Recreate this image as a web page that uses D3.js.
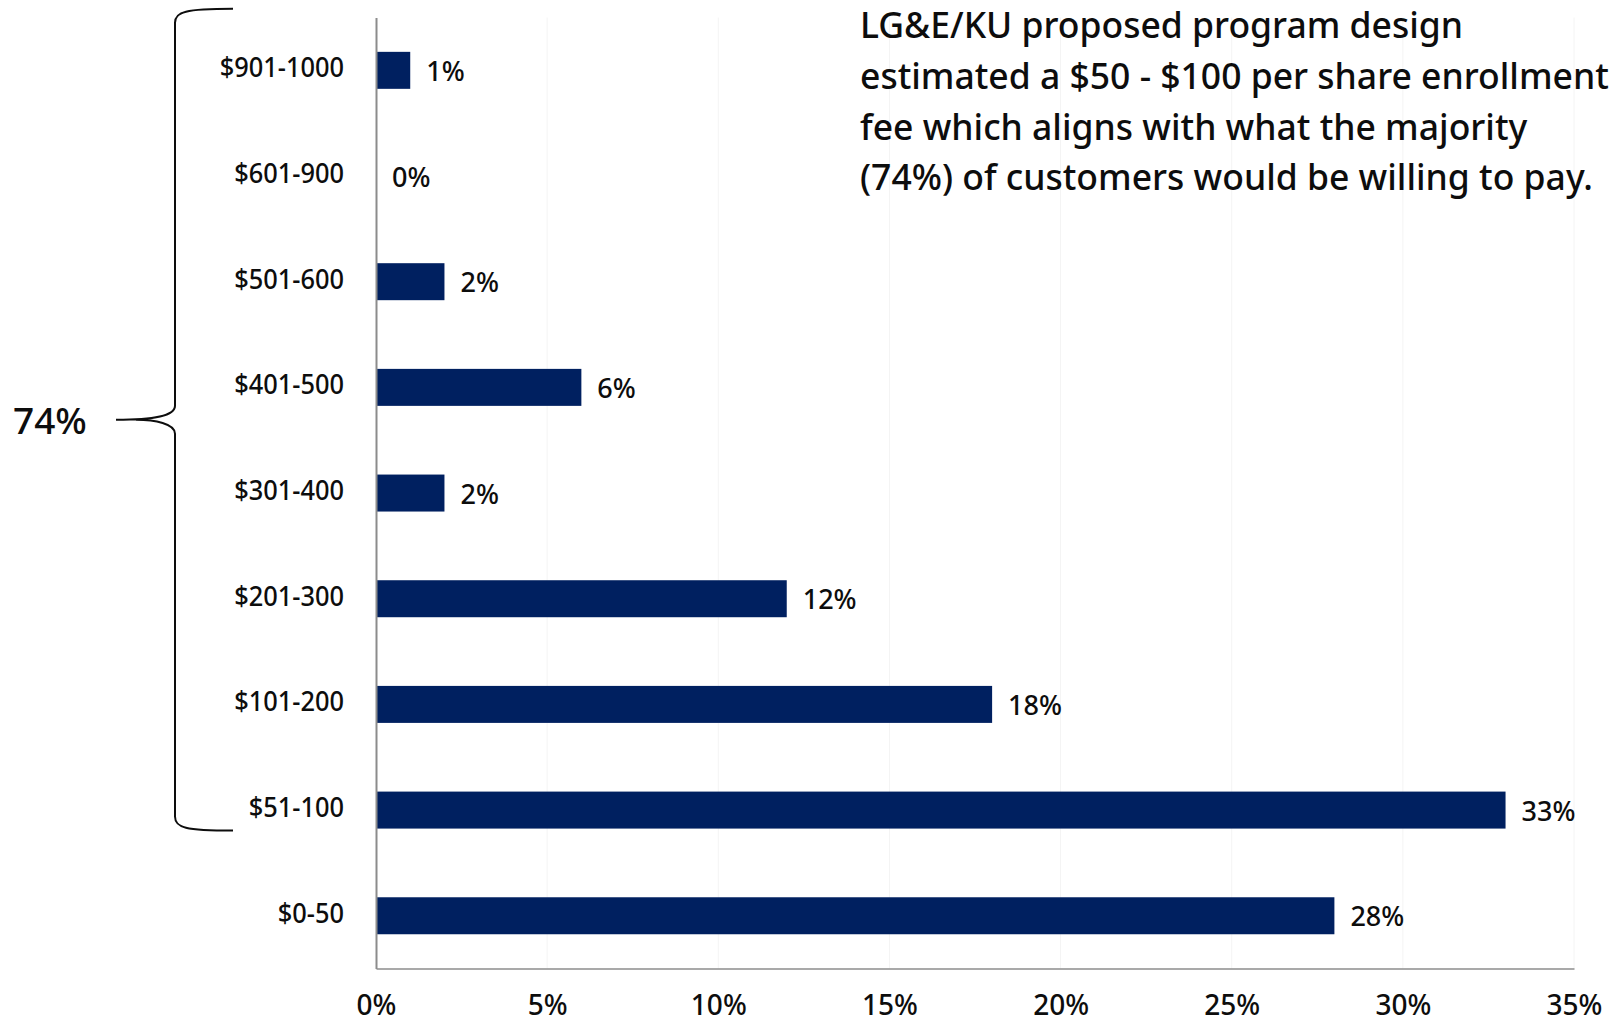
<!DOCTYPE html>
<html>
<head>
<meta charset="utf-8">
<script src="https://cdn.jsdelivr.net/npm/d3@7"></script>
<style>
  html, body { margin: 0; padding: 0; background: #fff; }
  svg { display: block; font-family: "Noto Sans", "Open Sans", sans-serif; }
</style>
</head>
<body>
<svg id="chart" width="1614" height="1025"></svg>
<script>
// Willingness-to-pay ranges, listed top to bottom
const categories = ["$901-1000", "$601-900", "$501-600", "$401-500", "$301-400",
                    "$201-300", "$101-200", "$51-100", "$0-50"];
// Share of customers per range (%)
const shares = [1, 0, 2, 6, 2, 12, 18, 33, 28];
// Horizontal axis ticks (%)
const xTicks = [0, 5, 10, 15, 20, 25, 30, 35];
// Call-out text
const noteLines = [
  "LG&E/KU proposed program design",
  "estimated a $50 - $100 per share enrollment",
  "fee which aligns with what the majority",
  "(74%) of customers would be willing to pay."
];
const braceLabel = "74%";
// Ranges grouped by the brace
const braceFrom = "$901-1000", braceTo = "$51-100";

const svg = d3.select("#chart");
const BAR = "#002060";
const INK = "#0d0d0d";

const x = d3.scaleLinear().domain([0, 35]).range([376, 1574]);
const y = d3.scaleBand().domain(categories).range([17.5, 968.6])
  .paddingInner(0.65).paddingOuter(0.325);

// faint vertical gridlines
svg.append("g").selectAll("line").data(xTicks.slice(1)).join("line")
  .attr("x1", d => x(d)).attr("x2", d => x(d))
  .attr("y1", y.range()[0]).attr("y2", y.range()[1])
  .attr("stroke", "#f4f4f4").attr("stroke-width", 1);

// bars
svg.append("g").selectAll("rect").data(categories).join("rect")
  .attr("x", x(0))
  .attr("y", d => y(d))
  .attr("width", (d, i) => x(shares[i]) - x(0))
  .attr("height", y.bandwidth())
  .attr("fill", BAR);

// value labels
svg.append("g").selectAll("text").data(categories).join("text")
  .attr("x", (d, i) => x(shares[i]) + 16)
  .attr("y", d => y(d) + y.bandwidth() / 2)
  .attr("dominant-baseline", "central")
  .attr("font-size", 27).attr("font-weight", 500)
  .attr("fill", INK)
  .text((d, i) => shares[i] + "%");

// category axis
const yAxis = svg.append("g")
  .attr("transform", `translate(${x(0)},0)`)
  .call(d3.axisLeft(y).tickSize(0).tickPadding(32));
yAxis.select(".domain").attr("stroke", "#8c8c8c").attr("stroke-width", 2);
yAxis.selectAll("text")
  .attr("font-size", 27).attr("font-weight", 500).attr("fill", INK)
  .attr("font-family", "Noto Sans")
  .attr("transform", "scale(0.94,1)")
  .attr("x", -32 / 0.94)
  .attr("dy", "0.26em");

// value axis
const xAxis = svg.append("g")
  .attr("transform", `translate(0,${y.range()[1]})`)
  .call(d3.axisBottom(x).tickValues(xTicks).tickSize(0).tickPadding(27)
    .tickFormat(d => d + "%"));
xAxis.select(".domain").attr("stroke", "#8c8c8c").attr("stroke-width", 1.5);
xAxis.selectAll("text").attr("font-size", 28).attr("font-weight", 500)
  .attr("fill", INK).attr("font-family", "Noto Sans");

// brace spanning the grouped ranges
const bTop = y(braceFrom) - 43;
const bBot = y(braceTo) + y.bandwidth() + 2;
const bMid = (bTop + bBot) / 2;
const bx = 175, tipX = 116, endX = 233;
const p = d3.path();
p.moveTo(endX, bTop);
p.bezierCurveTo(bx + 10, bTop, bx, bTop + 3, bx, bTop + 14);
p.lineTo(bx, bMid - 14);
p.bezierCurveTo(bx, bMid - 4, bx - 20, bMid, tipX, bMid);
p.moveTo(bx, bMid + 14);
p.bezierCurveTo(bx, bMid + 4, bx - 20, bMid, tipX + 20, bMid);
p.moveTo(bx, bMid + 14);
p.lineTo(bx, bBot - 14);
p.bezierCurveTo(bx, bBot - 3, bx + 10, bBot, endX, bBot);
svg.append("path").attr("d", p.toString())
  .attr("fill", "none").attr("stroke", INK).attr("stroke-width", 2);

svg.append("text")
  .attr("x", 13).attr("y", bMid)
  .attr("dominant-baseline", "central")
  .attr("font-size", 37).attr("font-weight", 500).attr("fill", INK)
  .text(braceLabel);

// call-out text
svg.append("g").selectAll("text").data(noteLines).join("text")
  .attr("x", 860)
  .attr("y", (d, i) => 38 + i * 50.8)
  .attr("font-size", 35.5).attr("font-weight", 500).attr("fill", INK)
  .text(d => d);
</script>
</body>
</html>
